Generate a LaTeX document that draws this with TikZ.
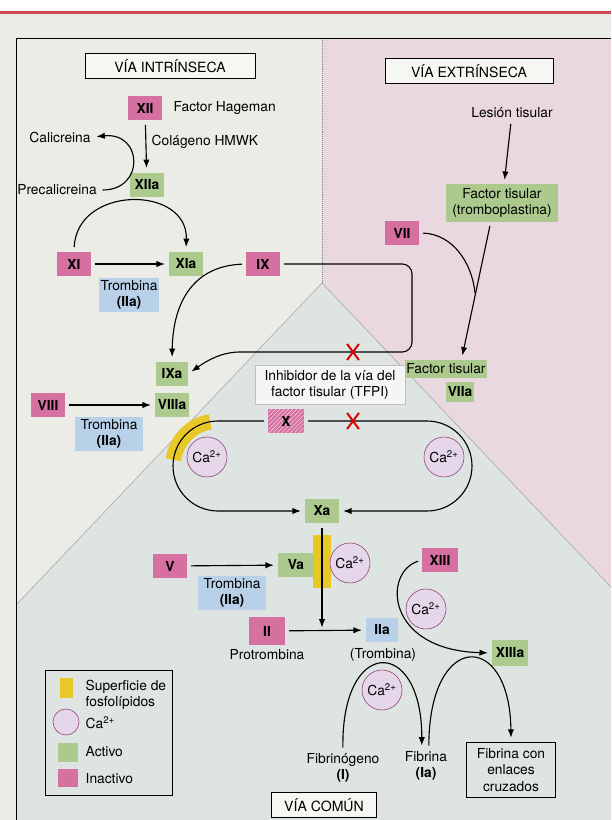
\documentclass[tikz,border=0pt]{standalone}
\usepackage{fontspec}
\setmainfont{TeX Gyre Heros}
\usetikzlibrary{arrows.meta,shapes.misc,patterns}

\definecolor{inac}{RGB}{214,112,160}
\definecolor{acti}{RGB}{172,202,142}
\definecolor{thrb}{RGB}{184,208,232}
\definecolor{phos}{RGB}{232,200,40}
\definecolor{cafill}{RGB}{230,214,234}
\definecolor{caline}{RGB}{140,60,115}
\definecolor{bgin}{RGB}{236,236,231}
\definecolor{bgex}{RGB}{233,216,223}
\definecolor{bgco}{RGB}{222,228,226}
\definecolor{titlebg}{RGB}{246,246,243}
\definecolor{edgered}{RGB}{205,75,85}

\begin{document}
\begin{tikzpicture}[
    x=0.025cm, y=-0.025cm,
    font=\fontsize{9.8}{11.5}\selectfont,
    all/.style={minimum width=.83cm, minimum height=.62cm, inner sep=1pt,
        font=\fontsize{9.8}{11.5}\selectfont\bfseries},
    inact/.style={all, fill=inac},
    act/.style={all, fill=acti},
    thr/.style={all, fill=thrb, align=center, minimum width=1.72cm,
        minimum height=.85cm, font=\fontsize{9.8}{11.5}\selectfont},
    ca/.style={circle, draw=caline, fill=cafill, minimum size=1cm, inner sep=0pt},
    title/.style={draw, fill=titlebg, line width=.6pt, minimum height=.62cm,
        font=\fontsize{10}{12}\selectfont},
    lbl/.style={inner sep=1pt, align=center},
    arr/.style={-{Latex[length=6pt,width=4.5pt]}, line width=.8pt,
        shorten >=3pt, shorten <=3pt},
    conn/.style={line width=.8pt},
    nox/.style={cross out, draw=red!85!black, line width=1.4pt, minimum width=7pt,
        minimum height=10pt, inner sep=0pt},
]
\useasboundingbox (0,0) rectangle (611,820);

% fondo de las tres vias
\fill[bgin] (0,0) rectangle (611,820);
\fill[white] (0,0) rectangle (611,11);
\fill[edgered] (0,11) rectangle (611,14);
\fill[bgex] (322,38) rectangle (611,587);
\fill[bgco] (322,283) -- (16,605) -- (16,820) -- (611,820) -- (611,587) -- cycle;
\draw[gray!70, line width=.4pt] (16,605) -- (322,283) -- (611,587);
\draw[gray, densely dotted] (322,38) -- (322,283);
\draw[line width=.6pt] (16,820) -- (16,38) -- (611,38);

\node[title, minimum width=4.25cm] (intr) at (170,66) {VÍA INTRÍNSECA};
\node[title, minimum width=4.2cm] (extr) at (469,71) {VÍA EXTRÍNSECA};
\node[title, minimum width=2.63cm] (comun) at (324,805) {VÍA COMÚN};

% via intrinseca
\node[inact] (xii) at (145,108) {XII};
\node[lbl, anchor=west] (hag) at (172,108) {Factor Hageman};
\node[act] (xiia) at (147,185) {XIIa};
\node[lbl, anchor=west] (col) at (150,142) {Colágeno HMWK};
\node[lbl] (cal) at (60,137) {Calicreina};
\node[lbl] (precal) at (57,190) {Precalicreina};
\node[inact] (xi) at (74,264) {XI};
\node[act] (xia) at (186,264) {XIa};
\node[thr, minimum width=1.38cm] (thr1) at (129,295) {Trombina\\\textbf{(IIa)}};
\node[inact] (ix) at (263,264) {IX};
\node[act, minimum width=.78cm] (ixa) at (172,374) {IXa};
\node[act] (viiia) at (172,405) {VIIIa};
\node[inact] (viii) at (48,405) {VIII};
\node[thr] (thr2) at (109,434) {Trombina\\\textbf{(IIa)}};

% via extrinseca
\node[lbl] (les) at (512,113) {Lesión tisular};
\node[act, align=center, minimum width=2.78cm, minimum height=.93cm,
    font=\fontsize{9.8}{11.5}\selectfont] (ft) at (502,203) {Factor tisular\\(tromboplastina)};
\node[inact] (vii) at (402,233) {VII};
\node[act, minimum width=1.38cm, minimum height=.45cm,
    font=\fontsize{9.8}{11.5}\selectfont] (ftl) at (446,369) {Factor tisular};
\node[act, minimum width=.65cm, minimum height=.48cm] (viia) at (460,392) {VIIa};

% via comun
\node[draw=gray!50, fill=white!92!gray, align=center, minimum width=3.75cm,
    minimum height=.95cm] (tfpi) at (330,385) {Inhibidor de la vía del\\factor tisular (TFPI)};
\draw[phos, line width=11pt] ([shift={(100:32pt)}]218,466) arc[start angle=100, end angle=172, radius=32pt];
\fill[phos] (313,535) rectangle (331,588);
\node[inact, minimum width=.88cm, minimum height=.58cm,
    postaction={pattern=north east lines, pattern color=white!65!inac}] (x) at (286,421) {X};
\node[ca] (ca1) at (207,457) {Ca\textsuperscript{2+}};
\node[ca] (ca2) at (444,457) {Ca\textsuperscript{2+}};
\node[act] (xa) at (322,511) {Xa};
\node[act, minimum width=.88cm] (va) at (296,565) {Va};
\node[ca] (ca3) at (350,563) {Ca\textsuperscript{2+}};
\node[inact] (v) at (170,566) {V};
\node[thr] (thr3) at (232,593) {Trombina\\\textbf{(IIa)}};
\node[inact, minimum width=.88cm, minimum height=.68cm] (ii) at (267,631) {II};
\node[lbl] (protr) at (267,655) {Protrombina};
\node[all, fill=thrb, minimum width=.78cm] (iia) at (382,630) {IIa};
\node[lbl] (trom) at (383,655) {(Trombina)};
\node[inact, minimum width=.88cm] (xiii) at (440,560) {XIII};
\node[ca] (ca4) at (426,609) {Ca\textsuperscript{2+}};
\node[act, minimum width=.88cm, minimum height=.65cm] (xiiia) at (510,653) {XIIIa};
\node[ca] (ca5) at (382,690) {Ca\textsuperscript{2+}};
\node[lbl] (fbg) at (343,768) {Fibrinógeno\\\textbf{(I)}};
\node[lbl] (fib) at (426,766) {Fibrina\\\textbf{(Ia)}};
\node[draw, fill=bgco, line width=.6pt, align=center, minimum width=2.22cm,
    minimum height=1.38cm] (fcross) at (511,770) {Fibrina con\\enlaces\\cruzados};
\coordinate (jn) at (322,629);
\coordinate (mrg) at (475,293);

\draw[arr] (xii) -- (xiia);
\draw[arr] (precal.east) .. controls (145,190) and (143,132) .. (cal.east);
\draw[arr] (xi) -- (xia);
\draw[arr] (xi.north) .. controls (77,185) and (188,185) .. (xia.north);
\draw[arr] (ix.west) .. controls (195,266) and (173,300) .. (ixa.north);
\draw[arr, rounded corners=7pt] (ix.east) -- (412,264) -- (412,352) -- (250,352)
    [sharp corners] .. controls (222,352) and (208,360) .. (ixa.east);
\draw[arr] (viii) -- (viiia);
\draw[arr] (les) -- (ft);
\draw[arr] ([xshift=-8pt]ft.south) -- ([xshift=11pt]ftl.north);
\draw[conn, shorten <=3pt] (vii.east) .. controls (452,234) and (472,262) .. (mrg);
\draw[arr, rounded corners=32pt] (x.west) -- (173,421) -- (173,511) -- (xa.west);
\draw[arr, rounded corners=32pt] (x.east) -- (472,421) -- (472,511) -- (xa.east);
\node[nox] (xb1) at (353,352) {};
\node[nox] (xb2) at (353,421) {};
\draw[arr, shorten >=1pt] (xa) -- (jn);
\draw[arr] (v) -- (va);
\draw[arr] (ii) -- (iia);
\draw[arr] (xiii.west) .. controls (383,572) and (385,650) .. (xiiia.west);
\draw[arr] (fbg.north) .. controls (341,636) and (422,636) .. ([xshift=-3pt]fib.north);
\draw[arr] ([xshift=2pt]fib.north) .. controls (429,630) and (510,630) .. (fcross.north);

% leyenda
\draw[line width=.6pt] (45,670) rectangle (172,795);
\fill[phos] (60,678) rectangle (73,698);
\node[lbl, anchor=west, align=left] (lphos) at (84,695) {Superficie de\\fosfolípidos};
\node[ca, minimum size=.65cm] (lca) at (66,722) {};
\node[lbl, anchor=west] (lcat) at (84,723) {Ca\textsuperscript{2+}};
\fill[acti] (58,743) rectangle (78,762);
\node[lbl, anchor=west] (lact) at (84,752) {Activo};
\fill[inac] (58,769) rectangle (78,787);
\node[lbl, anchor=west] (linact) at (84,779) {Inactivo};
\end{tikzpicture}
\end{document}
